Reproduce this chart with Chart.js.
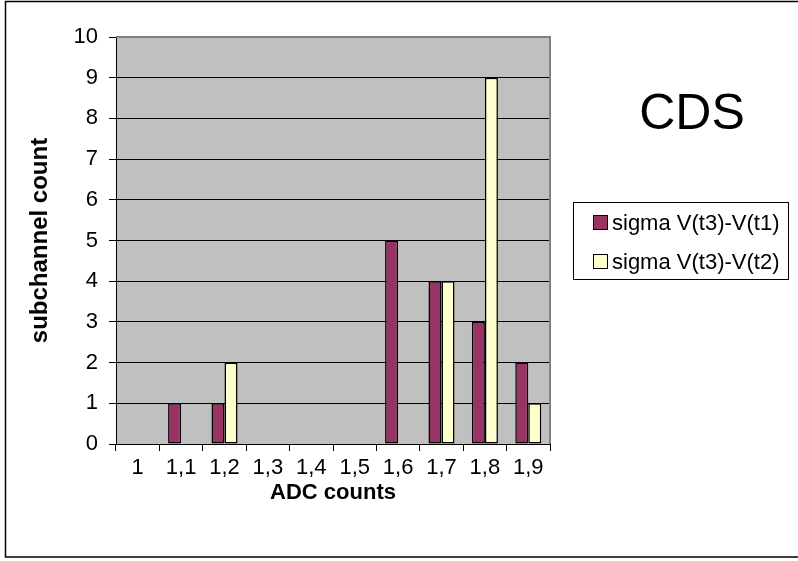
<!DOCTYPE html>
<html>
<head>
<meta charset="utf-8">
<script src="https://cdn.jsdelivr.net/npm/chart.js@4"></script>
<style>
  html, body { margin: 0; padding: 0; background: #fff; }
  #wrap { width: 798px; height: 561px; }
</style>
</head>
<body>
<div id="wrap"><canvas id="cdsChart" width="798" height="561"></canvas></div>
<script>
// values
const categories = ['1', '1,1', '1,2', '1,3', '1,4', '1,5', '1,6', '1,7', '1,8', '1,9'];
const sigmaT1 = [0, 1, 1, 0, 0, 0, 5, 4, 3, 2];
const sigmaT2 = [0, 0, 2, 0, 0, 0, 0, 4, 9, 1];
const seriesNames = ['sigma V(t3)-V(t1)', 'sigma V(t3)-V(t2)'];
const seriesColors = ['#993366', '#FFFFCC'];
const yTicks = [0, 1, 2, 3, 4, 5, 6, 7, 8, 9, 10];

const FONT = '"Liberation Sans", Arial, sans-serif';

// gray plot area, frame, "CDS" title and the legend box
const excelLook = {
    id: 'excelLook',
    beforeDraw(chart) {
        const { ctx, chartArea: a } = chart;
        ctx.save();
        ctx.fillStyle = '#C0C0C0';
        ctx.fillRect(a.left, a.top, a.right - a.left, a.bottom - a.top);
        ctx.restore();
    },
    afterDraw(chart) {
        const { ctx, chartArea: a } = chart;
        ctx.save();
        // plot border top/right
        ctx.strokeStyle = '#808080';
        ctx.lineWidth = 2;
        ctx.beginPath();
        ctx.moveTo(a.left, a.top);
        ctx.lineTo(a.right, a.top);
        ctx.lineTo(a.right, a.bottom);
        ctx.stroke();

        // outer chart frame
        ctx.strokeStyle = '#000';
        ctx.lineWidth = 1.5;
        ctx.beginPath();
        ctx.moveTo(800, 1.5);
        ctx.lineTo(5.5, 1.5);
        ctx.lineTo(5.5, 557);
        ctx.lineTo(800, 557);
        ctx.stroke();

        // big title
        ctx.fillStyle = '#000';
        ctx.font = '50px ' + FONT;
        ctx.textAlign = 'center';
        ctx.textBaseline = 'middle';
        ctx.fillText('CDS', 692, 115);

        // legend
        ctx.lineWidth = 1;
        ctx.strokeStyle = '#000';
        ctx.strokeRect(573.5, 202.5, 215, 77);
        ctx.font = '22px ' + FONT;
        ctx.textAlign = 'left';
        chart.data.datasets.forEach((ds, i) => {
            const cy = 223 + i * 39;
            ctx.fillStyle = ds.backgroundColor;
            ctx.fillRect(593.5, cy - 7.5, 14, 14);
            ctx.strokeRect(593.5, cy - 7.5, 14, 14);
            ctx.fillStyle = '#000';
            ctx.fillText(ds.label, 612, cy + 1);
        });
        ctx.restore();
    }
};

const ctx = document.getElementById('cdsChart').getContext('2d');
new Chart(ctx, {
    type: 'bar',
    data: {
        labels: categories,
        datasets: [
            { label: seriesNames[0], data: sigmaT1, backgroundColor: seriesColors[0] },
            { label: seriesNames[1], data: sigmaT2, backgroundColor: seriesColors[1] }
        ]
    },
    options: {
        responsive: false,
        animation: false,
        devicePixelRatio: 1,
        layout: { padding: { left: 26, top: 37, right: 248, bottom: 55 } },
        datasets: {
            bar: {
                categoryPercentage: 0.6,
                barPercentage: 1,
                borderColor: '#000',
                borderWidth: c => (c.raw ? 1.5 : 0),
                borderSkipped: false
            }
        },
        plugins: {
            legend: { display: false },
            tooltip: { enabled: false }
        },
        scales: {
            x: {
                afterFit: s => { s.height = 62; },
                grid: {
                    offset: true,
                    drawOnChartArea: false,
                    drawTicks: true,
                    tickLength: 7,
                    color: '#000'
                },
                border: { display: true, color: '#000', width: 1 },
                ticks: {
                    color: '#000',
                    font: { family: FONT, size: 22 },
                    padding: 4,
                    maxRotation: 0,
                    autoSkip: false
                },
                title: {
                    display: true,
                    text: 'ADC counts',
                    color: '#000',
                    font: { family: FONT, size: 22, weight: 'bold' },
                    padding: 0
                }
            },
            y: {
                min: 0,
                max: 10,
                afterFit: s => { s.width = 90; },
                afterBuildTicks: s => { s.ticks = yTicks.map(v => ({ value: v })); },
                grid: {
                    color: '#000',
                    lineWidth: 1,
                    tickLength: 7
                },
                border: { display: true, color: '#000', width: 1 },
                ticks: {
                    color: '#000',
                    font: { family: FONT, size: 22 },
                    padding: 11
                },
                title: {
                    display: true,
                    text: 'subchannel count',
                    color: '#000',
                    font: { family: FONT, size: 24, weight: 'bold' },
                    padding: 0
                }
            }
        }
    },
    plugins: [excelLook]
});
</script>
</body>
</html>
